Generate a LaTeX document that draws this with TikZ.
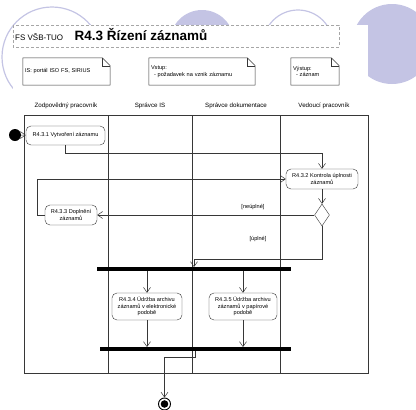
\documentclass[tikz,border=0pt]{standalone}
\usepackage{fontspec}
\setmainfont{Liberation Sans}
\usetikzlibrary{positioning,shapes.geometric,arrows.meta}
\definecolor{bgviolet}{RGB}{196,196,228}
\definecolor{lineg}{RGB}{55,55,55}
\newcommand{\smalltxt}{\fontsize{5.6}{6.6}\selectfont}

\begin{document}
\begin{tikzpicture}[x=1pt,y=-1pt,
    activity/.style={rectangle,rounded corners=5pt,draw=lineg,fill=white,
                     align=center,inner sep=1pt,font=\smalltxt},
    decision/.style={diamond,draw=lineg,fill=white,inner sep=0pt,
                     minimum width=15pt,minimum height=22pt},
    note/.style={inner sep=2pt,align=left,font=\smalltxt},
    noteline/.style={draw=lineg,line width=0.5pt},
    lane/.style={draw=lineg,line width=0.6pt},
    lanehead/.style={font=\fontsize{6.2}{7}\selectfont},
    flow/.style={draw=lineg,line width=0.5pt,-{Straight Barb[length=5pt,width=7pt]}},
    bar/.style={rectangle,fill=black,minimum height=3.5pt,inner sep=0pt},
    guard/.style={font=\smalltxt,inner sep=1pt},
    scale=1.0]
  \useasboundingbox (0,0) rectangle (416,410);
  \fill[bgviolet] (202,42) circle (32);
  \fill[bgviolet] (392,44) circle (40);
  \draw[bgviolet,line width=1.2pt] (52,57) circle (50);
  \draw[bgviolet,line width=1.2pt] (298,45) circle (35);
  \fill[white] (13,25) rectangle (368,410);

  \draw[gray!70,dash pattern=on 3pt off 2pt] (13,25) rectangle (339,47);
  \node[anchor=base west,inner sep=1pt,font=\fontsize{8}{9}\selectfont] (org) at (14,40.5) {FS VŠB-TUO};
  \node[base right=9pt of org,inner sep=1pt,font=\bfseries\fontsize{13.5}{15}\selectfont] (title) {R4.3 Řízení záznamů};

  \node[note,minimum height=27pt,text width=83pt] (is) at (66.5,71.5) {IS: portál ISO FS, SIRIUS};
  \node[note,minimum height=27pt,text width=102pt] (input) at (202,71.5) {Vstup:\\\hspace*{3pt}- požadavek na vznik záznamu};
  \node[note,minimum height=27pt,text width=44pt] (output) at (315,71.5) {Výstup:\\\hspace*{3pt}- záznam};
  \foreach \n in {is,input,output} {
    \draw[noteline] (\n.north west) -- ([xshift=-8pt]\n.north east) -- ([yshift=-8pt]\n.north east)
      -- (\n.south east) -- (\n.south west) -- cycle;
    \draw[noteline] ([xshift=-8pt]\n.north east) |- ([yshift=-8pt]\n.north east);
  }

  \draw[lane] (24,115) rectangle (368,373);
  \foreach \x in {108,192,280}
    \draw[lane] (\x,115) -- (\x,373);
  \node[lanehead] (lane1) at (66,106) {Zodpovědný pracovník};
  \node[lanehead] (lane2) at (150,106) {Správce IS};
  \node[lanehead] (lane3) at (236,106) {Správce dokumentace};
  \node[lanehead] (lane4) at (324,106) {Vedoucí pracovník};

  \node[circle,fill=black,minimum size=12pt,inner sep=0pt] (start) at (15,135) {};
  \node[activity,minimum width=79pt,minimum height=19pt] (a1) at (65.5,135.5) {R4.3.1 Vytvoření záznamu};
  \node[activity,minimum width=72pt,minimum height=20pt] (a2) at (322,179) {R4.3.2 Kontrola úplnosti\\záznamů};
  \node[decision] (dec) at (322,215) {};
  \node[activity,minimum width=52pt,minimum height=20pt] (a3) at (71,215) {R4.3.3 Doplnění\\záznamů};
  \node[guard] (g1) at (253,207) {[neúplné]};
  \node[guard] (g2) at (258,239) {[úplné]};
  \node[bar,minimum width=194pt] (fork) at (194,269) {};
  \node[activity,minimum width=70pt,minimum height=27pt] (a4) at (147,306.5) {R4.3.4 Údržba archivu\\záznamů v elektronické\\podobě};
  \node[activity,minimum width=68pt,minimum height=27pt] (a5) at (243,306.5) {R4.3.5 Údržba archivu\\záznamů v papírové\\podobě};
  \node[bar,minimum width=191pt] (join) at (195.5,349) {};
  \node[circle,draw=black,line width=0.9pt,minimum size=12pt,inner sep=0pt,
        path picture={\fill (path picture bounding box.center) circle (3.8pt);}] (stop) at (164.5,404) {};

  \draw[flow] (start) -- (a1);
  \draw[flow] (a1.south) -- ++(0,8) -| (a2.north);
  \draw[flow] (a2) -- (dec);
  \draw[flow] (dec.west) -- (a3.east);
  \draw[flow] (a3.west) -- ++(-8,0) |- (a2.west);
  \draw[flow] (dec.south) -- ++(0,33) -| (fork.north);
  \draw[flow] (fork.south -| a4.north) -- (a4.north);
  \draw[flow] (fork.south -| a5.north) -- (a5.north);
  \draw[flow] (a4.south) -- (a4.south |- join.north);
  \draw[flow] (a5.south) -- (a5.south |- join.north);
  \draw[flow] (join.south) -- ++(0,6) -| (stop.north);
\end{tikzpicture}
\end{document}
